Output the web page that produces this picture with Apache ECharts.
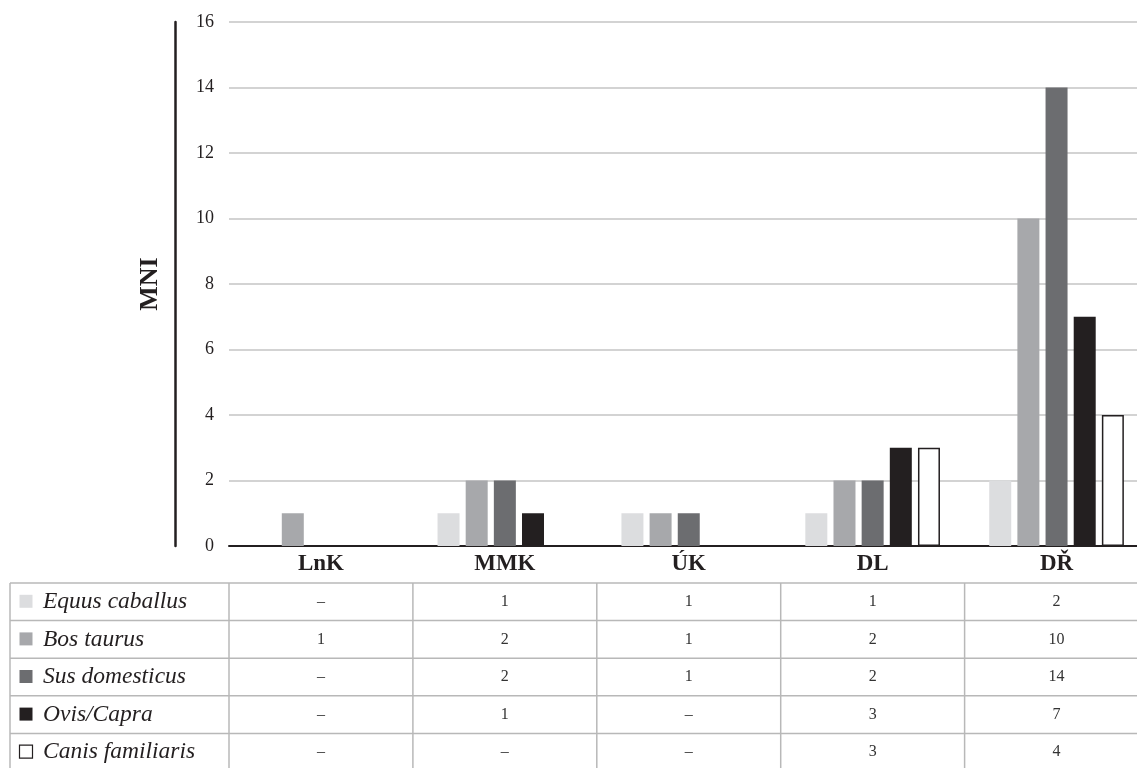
<!DOCTYPE html>
<html><head><meta charset="utf-8">
<script src="https://cdn.jsdelivr.net/npm/echarts@6/dist/echarts.min.js"></script>
<style>html,body{margin:0;padding:0;background:#fff}#c{width:1137px;height:768px}</style>
</head><body><div id="c"></div>
<script>
// ---- data ----
const categories = ['LnK', 'MMK', 'ÚK', 'DL', 'DŘ'];
const speciesNames = ['Equus caballus', 'Bos taurus', 'Sus domesticus', 'Ovis/Capra', 'Canis familiaris'];
const equus = [null, 1, 1, 1, 2];
const bos = [1, 2, 1, 2, 10];
const sus = [null, 2, 1, 2, 14];
const ovis = [null, 1, null, 3, 7];
const canis = [null, null, null, 3, 4];
const yMin = 0, yMax = 16, yStep = 2;
const axisTitle = 'MNI';

// ---- style ----
const FONT = "'Liberation Serif', 'Times New Roman', serif";
const DARK = '#231f20';
const fills = ['#dcdddf', '#a7a8ab', '#6c6d70', '#231f20', '#ffffff'];
const borders = [null, null, null, null, DARK];
const seriesData = [equus, bos, sus, ovis, canis];

const chart = echarts.init(document.getElementById('c'), null, { renderer: 'canvas' });

const option = {
  animation: false,
  backgroundColor: '#fff',
  grid: { left: 229, width: 919.5, top: 22, bottom: 222, containLabel: false, outerBoundsMode: 'none' },
  xAxis: {
    type: 'category',
    data: categories,
    axisLine: { show: true, lineStyle: { color: DARK, width: 2 } },
    axisTick: { show: false },
    axisLabel: { fontFamily: FONT, fontWeight: 'bold', fontSize: 23, color: DARK, margin: 7 }
  },
  yAxis: [{
    type: 'value', min: yMin, max: yMax, interval: yStep,
    axisLine: { show: false }, axisTick: { show: false },
    axisLabel: { fontFamily: FONT, fontSize: 18, color: DARK, margin: 15 },
    splitLine: { lineStyle: { color: '#c4c4c4', width: 1.5 } }
  }, {
    type: 'value', min: yMin, max: yMax, interval: yStep, position: 'left', offset: 54,
    axisLine: { show: true, lineStyle: { color: DARK, width: 2.5 } },
    axisTick: { show: false }, axisLabel: { show: false }, splitLine: { show: false },
    name: axisTitle, nameLocation: 'middle', nameGap: 12, nameRotate: 90,
    nameTextStyle: { fontFamily: FONT, fontWeight: 'bold', fontSize: 26, color: DARK }
  }],
  series: seriesData.map((d, i) => ({
    name: speciesNames[i], type: 'bar', data: d, barWidth: 22, barGap: '28%',
    itemStyle: { color: fills[i], borderColor: borders[i] || fills[i], borderWidth: borders[i] ? 1.5 : 0 }
  }))
};
chart.setOption(option);

// ---- data table below the chart, aligned with category axis ----
function buildTable() {
  const c0 = chart.convertToPixel({ xAxisIndex: 0 }, 0);
  const c1 = chart.convertToPixel({ xAxisIndex: 0 }, 1);
  const band = c1 - c0;
  const plotLeft = c0 - band / 2;
  const tableLeft = 10, tableTop = 583, rowH = 37.6;
  const tableRight = plotLeft + band * categories.length;
  const nRows = speciesNames.length;
  const g = [];
  const lineStyle = { stroke: '#b8b8b8', lineWidth: 1.5 };
  for (let r = 0; r <= nRows; r++) {
    const y = tableTop + r * rowH;
    g.push({ type: 'line', shape: { x1: tableLeft, y1: y, x2: tableRight, y2: y }, style: lineStyle, silent: true });
  }
  const xs = [tableLeft, plotLeft];
  for (let k = 1; k <= categories.length; k++) xs.push(plotLeft + k * band);
  xs.forEach(x => g.push({ type: 'line', shape: { x1: x, y1: tableTop, x2: x, y2: tableTop + nRows * rowH }, style: lineStyle, silent: true }));
  for (let r = 0; r < nRows; r++) {
    const cy = tableTop + (r + 0.5) * rowH;
    g.push({ type: 'rect', shape: { x: 19.5, y: cy - 7, width: 13, height: 13 },
      style: { fill: fills[r], stroke: borders[r] || fills[r], lineWidth: borders[r] ? 1.2 : 0 }, silent: true });
    g.push({ type: 'text', x: 43, y: cy, style: { text: speciesNames[r], font: `italic 23.5px ${FONT}`, fill: DARK,
      textAlign: 'left', textVerticalAlign: 'middle' }, silent: true });
    seriesData[r].forEach((v, ci) => {
      const cx = chart.convertToPixel({ xAxisIndex: 0 }, ci);
      g.push({ type: 'text', x: cx, y: cy, style: { text: v == null ? '–' : String(v), font: `16px ${FONT}`, fill: '#333',
        textAlign: 'center', textVerticalAlign: 'middle' }, silent: true });
    });
  }
  chart.setOption({ graphic: g });
}
buildTable();
</script></body></html>
